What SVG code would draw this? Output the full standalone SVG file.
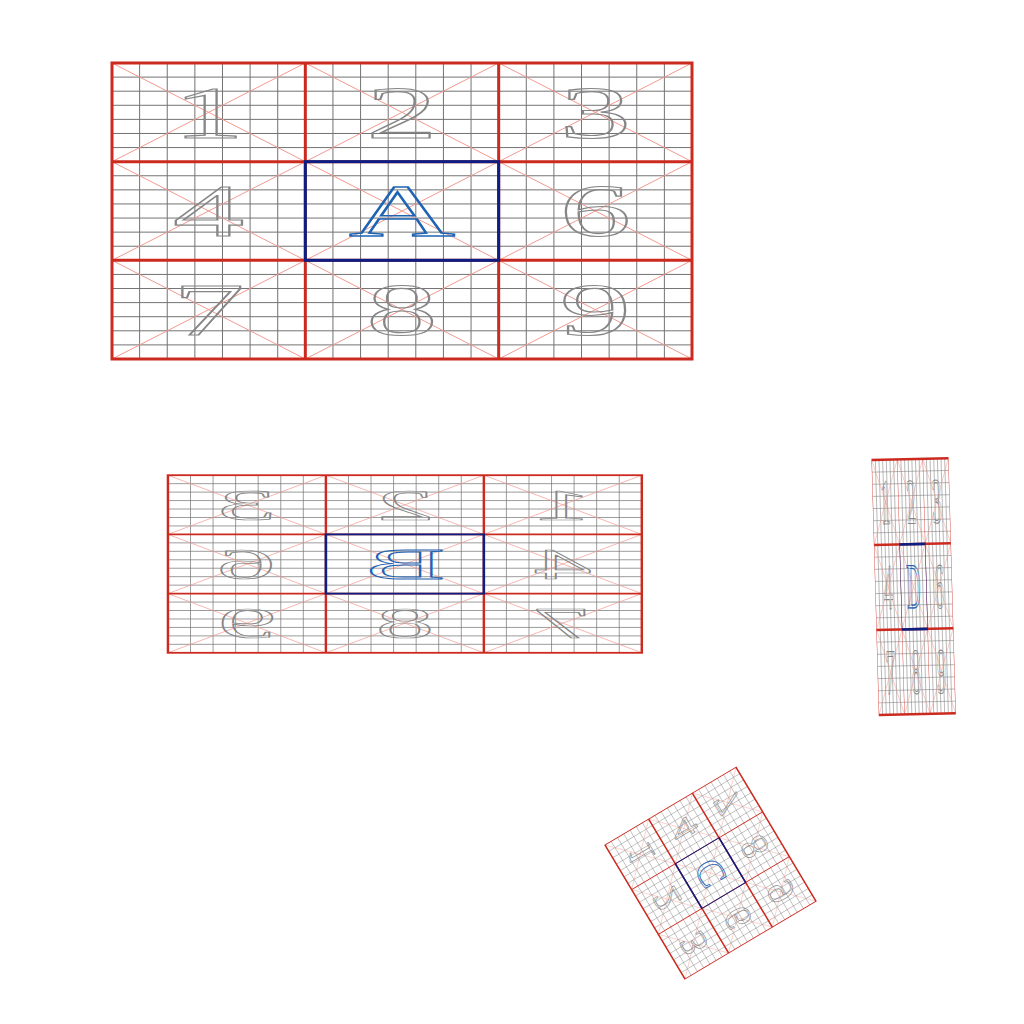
<svg xmlns="http://www.w3.org/2000/svg" xmlns:xlink="http://www.w3.org/1999/xlink" width="1024" height="1024" viewBox="0 0 1024 1024">
<style>
.grid{fill:none;stroke:#737373;stroke-width:1}
.diag{fill:none;stroke:#f29a90;stroke-width:1}
.red{fill:none;stroke:#cc2a1f;stroke-width:3}
.blue{fill:none;stroke:#0c1e82;stroke-width:3}
.dig{fill:none;stroke:#868686;stroke-width:1.2;font-family:"Liberation Serif",serif;font-size:75px;text-anchor:middle}
.let{fill:none;stroke:#1f63b4;stroke-width:1.5;font-family:"Liberation Serif",serif;font-size:75px;text-anchor:middle}
</style>
<defs>
<g id="tile">
<rect x="0" y="0" width="580" height="296" fill="#ffffff"/>
<path class="grid" d="M27.62 0V296M55.24 0V296M82.86 0V296M110.48 0V296M138.1 0V296M165.71 0V296M220.95 0V296M248.57 0V296M276.19 0V296M303.81 0V296M331.43 0V296M359.05 0V296M414.29 0V296M441.9 0V296M469.52 0V296M497.14 0V296M524.76 0V296M552.38 0V296M0 14.1H580M0 28.19H580M0 42.29H580M0 56.38H580M0 70.48H580M0 84.57H580M0 112.76H580M0 126.86H580M0 140.95H580M0 155.05H580M0 169.14H580M0 183.24H580M0 211.43H580M0 225.52H580M0 239.62H580M0 253.71H580M0 267.81H580M0 281.9H580"/>
<path class="diag" d="M0 0L193.33 98.67M193.33 0L0 98.67M193.33 0L386.67 98.67M386.67 0L193.33 98.67M386.67 0L580 98.67M580 0L386.67 98.67M0 98.67L193.33 197.33M193.33 98.67L0 197.33M193.33 98.67L386.67 197.33M386.67 98.67L193.33 197.33M386.67 98.67L580 197.33M580 98.67L386.67 197.33M0 197.33L193.33 296M193.33 197.33L0 296M193.33 197.33L386.67 296M386.67 197.33L193.33 296M386.67 197.33L580 296M580 197.33L386.67 296"/>
<path class="red" d="M193.33 0V296M386.67 0V296M0 98.67H580M0 197.33H580"/>
<rect class="red" x="0" y="0" width="580" height="296"/>
<rect class="blue" x="193.33" y="98.67" width="193.34" height="98.66"/>
<text class="dig" transform="translate(96.67,74.5) scale(1.9,1)">1</text>
<text class="dig" transform="translate(290,74.5) scale(1.9,1)">2</text>
<text class="dig" transform="translate(483.33,74.5) scale(1.9,1)">3</text>
<text class="dig" transform="translate(96.67,173.2) scale(1.9,1)">4</text>
<text class="dig" transform="translate(483.33,173.2) scale(1.9,1)">6</text>
<text class="dig" transform="translate(96.67,271.9) scale(1.9,1)">7</text>
<text class="dig" transform="translate(290,271.9) scale(1.9,1)">8</text>
<text class="dig" transform="translate(483.33,271.9) scale(1.9,1)">9</text>
</g>
</defs>
<g id="panel-A" transform="translate(112,63)">
<use xlink:href="#tile" href="#tile"/>
<text class="let" transform="translate(290,172.5) scale(1.95,1)">A</text>
</g>
<g id="panel-B" transform="translate(641.8,475.2) scale(-0.817,0.6)">
<use xlink:href="#tile" href="#tile"/>
<text class="let" transform="translate(290,172.5) scale(1.95,1)">B</text>
</g>
<g id="panel-D" transform="matrix(0.1321,-0.00293,0.02466,0.8615,871.7,460)">
<use xlink:href="#tile" href="#tile"/>
<text class="let" transform="translate(290,172.5) scale(1.95,1)">D</text>
</g>
<g id="panel-C" transform="matrix(0.1379,0.231,0.4426,-0.2628,605,845)">
<use xlink:href="#tile" href="#tile"/>
<text class="let" transform="translate(290,172.5) scale(1.95,1)">C</text>
</g>
<g id="connectors"/>
</svg>
